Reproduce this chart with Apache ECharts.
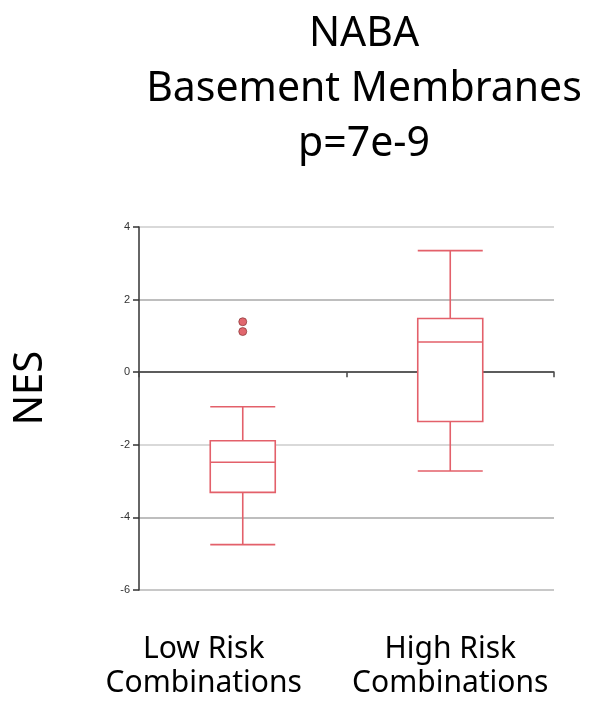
<!DOCTYPE html>
<html>
<head>
<meta charset="utf-8">
<script src="https://cdn.jsdelivr.net/npm/echarts@6/dist/echarts.min.js"></script>
<style>
html,body{margin:0;padding:0;background:#fff;}
#chart{width:590px;height:711px;}
</style>
</head>
<body>
<div id="chart"></div>
<script>
// ---- data ----
var titleLines = ['NABA', 'Basement Membranes', 'p=7e-9'];
var yAxisName = 'NES';
var categories = ['Low Risk Combinations', 'High Risk Combinations'];
var categoryLines = [['Low Risk', 'Combinations'], ['High Risk', 'Combinations']];
// [min, Q1, median, Q3, max]
var lowRiskBox = [-4.75, -3.31, -2.48, -1.89, -0.95];
var highRiskBox = [-2.72, -1.36, 0.83, 1.48, 3.35];
var lowRiskOutliers = [1.39, 1.12];
var highRiskOutliers = [];
var yTicks = [-6, -4, -2, 0, 2, 4];

var boxData = [lowRiskBox, highRiskBox];
var outlierData = [];
lowRiskOutliers.forEach(function (v) { outlierData.push([categories[0], v]); });
highRiskOutliers.forEach(function (v) { outlierData.push([categories[1], v]); });

var chart = echarts.init(document.getElementById('chart'), null, {renderer: 'canvas'});
var font = '"Noto Sans", "Open Sans", sans-serif';

var option = {
  animation: false,
  backgroundColor: '#ffffff',
  graphic: [{
    type: 'text',
    x: 364,
    y: 7,
    style: {
      text: titleLines.join('\n'),
      font: '41px ' + font,
      fill: '#000',
      align: 'center',
      verticalAlign: 'top',
      lineHeight: 55
    }
  }, {
    type: 'text',
    x: 31,
    y: 388,
    rotation: Math.PI / 2,
    style: {
      text: yAxisName,
      font: '40px ' + font,
      fill: '#000',
      align: 'center',
      verticalAlign: 'middle'
    }
  }],
  grid: {left: 139, right: 36, top: 227, bottom: 121, containLabel: false},
  xAxis: [{
    type: 'category',
    data: categories,
    boundaryGap: true,
    axisLine: {show: true, onZero: true, lineStyle: {color: '#444', width: 1.5}},
    axisTick: {show: true, length: 5, lineStyle: {color: '#444', width: 1.5}},
    axisLabel: {show: false},
    splitLine: {show: false}
  }, {
    type: 'category',
    data: categories,
    position: 'bottom',
    boundaryGap: true,
    axisLine: {show: false, onZero: false},
    axisTick: {show: false},
    splitLine: {show: false},
    axisLabel: {
      show: true,
      interval: 0,
      margin: 42,
      formatter: function (v, i) {
        var tag = i === 0 ? 'l' : 'h';
        return categoryLines[i].map(function (s) { return '{' + tag + '|' + s + '}'; }).join('\n');
      },
      rich: {
        l: {fontSize: 30, fontFamily: font, color: '#000', lineHeight: 34, padding: [0, 78, 0, 0]},
        h: {fontSize: 30, fontFamily: font, color: '#000', lineHeight: 34}
      }
    }
  }],
  yAxis: {
    type: 'value',
    min: -6,
    max: 4,
    interval: 2,
    axisLine: {show: true, lineStyle: {color: '#333', width: 1.5}},
    axisTick: {show: true, length: 6, lineStyle: {color: '#333', width: 1.5}},
    axisLabel: {
      margin: 9,
      fontSize: 11,
      fontFamily: 'Liberation Sans, Arial, sans-serif',
      color: '#333',
      customValues: yTicks
    },
    splitLine: {
      show: true,
      lineStyle: {color: ['#b6b6b6', '#a8a8a8', '#cccccc', '#888888', '#a8a8a8', '#cccccc'], width: 1.5}
    }
  },
  series: [{
    type: 'boxplot',
    xAxisIndex: 0,
    data: boxData,
    boxWidth: [65, 65],
    itemStyle: {color: '#ffffff', borderColor: '#e3606a', borderWidth: 1.6},
    emphasis: {disabled: true}
  }, {
    type: 'scatter',
    xAxisIndex: 0,
    data: outlierData,
    symbol: 'circle',
    symbolSize: 8,
    itemStyle: {color: '#d9414a', borderColor: '#7a2a2a', borderWidth: 0.8}
  }]
};
chart.setOption(option);
</script>
</body>
</html>
